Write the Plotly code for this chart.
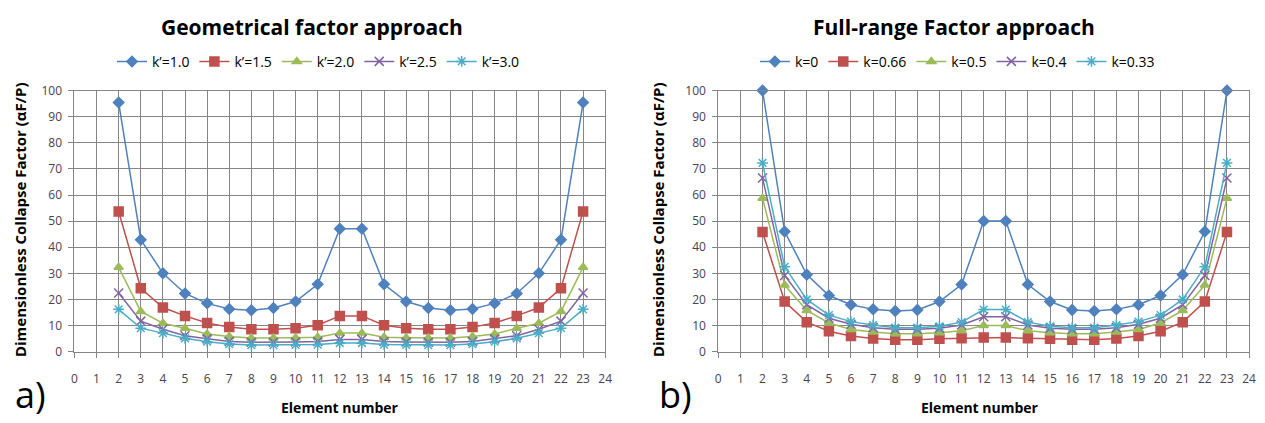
import plotly.graph_objects as go

elements = list(range(2, 24))

# Left: Geometrical factor approach
left_names = ["k\u2019=1.0", "k\u2019=1.5", "k\u2019=2.0", "k\u2019=2.5", "k\u2019=3.0"]
k1_0 = [95.4, 42.9, 30.0, 22.3, 18.5, 16.3, 15.9, 16.7, 19.2, 25.8, 47.1, 47.1, 25.8, 19.2, 16.7, 15.9, 16.3, 18.5, 22.3, 30.0, 42.9, 95.4]
k1_5 = [53.7, 24.3, 16.9, 13.7, 11.0, 9.4, 8.6, 8.6, 9.0, 10.1, 13.7, 13.7, 10.1, 9.0, 8.6, 8.6, 9.4, 11.0, 13.7, 16.9, 24.3, 53.7]
k2_0 = [32.3, 15.4, 10.9, 9.0, 6.8, 5.8, 5.2, 5.2, 5.3, 5.5, 7.1, 7.1, 5.5, 5.3, 5.2, 5.2, 5.8, 6.8, 9.0, 10.9, 15.4, 32.3]
k2_5 = [22.5, 11.7, 8.6, 6.1, 4.9, 3.9, 3.6, 3.6, 3.7, 3.9, 4.7, 4.7, 3.9, 3.7, 3.6, 3.6, 3.9, 4.9, 6.1, 8.6, 11.7, 22.5]
k3_0 = [16.2, 9.0, 7.1, 5.1, 3.8, 2.9, 2.5, 2.5, 2.6, 2.7, 3.3, 3.3, 2.7, 2.6, 2.5, 2.5, 2.9, 3.8, 5.1, 7.1, 9.0, 16.2]

# Right: Full-range factor approach
right_names = ["k=0", "k=0.66", "k=0.5", "k=0.4", "k=0.33"]
k0 = [100, 46.0, 29.5, 21.5, 18.0, 16.2, 15.6, 16.0, 19.2, 25.7, 50, 50, 25.7, 19.2, 16.0, 15.6, 16.2, 18.0, 21.5, 29.5, 46.0, 100]
k066 = [45.8, 19.2, 11.3, 7.8, 6.0, 5.0, 4.6, 4.6, 4.9, 5.1, 5.4, 5.4, 5.1, 4.9, 4.6, 4.6, 5.0, 6.0, 7.8, 11.3, 19.2, 45.8]
k05 = [58.8, 25.5, 15.8, 11.0, 8.5, 7.5, 6.9, 6.9, 7.2, 8.0, 10.0, 10.0, 8.0, 7.2, 6.9, 6.9, 7.5, 8.5, 11.0, 15.8, 25.5, 58.8]
k04 = [66.5, 29.2, 18.0, 12.8, 10.5, 9.2, 8.6, 8.6, 9.0, 10.2, 13.4, 13.4, 10.2, 9.0, 8.6, 8.6, 9.2, 10.5, 12.8, 18.0, 29.2, 66.5]
k033 = [72.3, 32.5, 20.0, 14.0, 11.5, 10.2, 9.2, 9.2, 9.7, 11.3, 16.1, 16.1, 11.3, 9.7, 9.2, 9.2, 10.2, 11.5, 14.0, 20.0, 32.5, 72.3]

x_ticks = list(range(0, 25))
y_ticks = list(range(0, 101, 10))

colors = ["#4F81BD", "#C0504D", "#9BBB59", "#8064A2", "#4BACC6"]
symbols = ["diamond", "square", "triangle-up", "x-thin-open", "asterisk-open"]
sizes = [8, 9, 8, 9, 9]

FONT = "Open Sans, Liberation Sans, sans-serif"

fig = go.Figure()

left_series = [k1_0, k1_5, k2_0, k2_5, k3_0]
right_series = [k0, k066, k05, k04, k033]

for i, (name, ys) in enumerate(zip(left_names, left_series)):
    fig.add_trace(go.Scatter(
        x=elements, y=ys, name=name, mode="lines+markers", cliponaxis=False,
        line=dict(color=colors[i], width=1.5),
        marker=dict(symbol=symbols[i], size=sizes[i], color=colors[i],
                    line=dict(color=colors[i], width=1.5)),
        xaxis="x", yaxis="y", legend="legend"))

for i, (name, ys) in enumerate(zip(right_names, right_series)):
    fig.add_trace(go.Scatter(
        x=elements, y=ys, name=name, mode="lines+markers", cliponaxis=False,
        line=dict(color=colors[i], width=1.5),
        marker=dict(symbol=symbols[i], size=sizes[i], color=colors[i],
                    line=dict(color=colors[i], width=1.5)),
        xaxis="x2", yaxis="y2", legend="legend2"))

W, H = 1265, 423
def px(x):
    return x / W
def py(y):
    return (H - y) / H

grid = "#858585"
tickfont = dict(family=FONT, size=12, color="#4a4050")
xaxis_common = dict(range=[0, 24], tickmode="array", tickvals=x_ticks,
                    ticktext=[str(v) for v in x_ticks],
                    showgrid=True, gridcolor=grid, gridwidth=1,
                    showline=True, linecolor=grid, linewidth=1, mirror=True,
                    ticks="outside", ticklen=5, tickcolor=grid,
                    ticklabelstandoff=11,
                    tickfont=tickfont, zeroline=False, fixedrange=True)
yaxis_common = dict(range=[0, 100], tickmode="array", tickvals=y_ticks,
                    ticktext=[str(v) for v in y_ticks],
                    showgrid=True, gridcolor=grid, gridwidth=1,
                    showline=True, linecolor=grid, linewidth=1, mirror=True,
                    ticks="outside", ticklen=5, tickcolor=grid,
                    ticklabelstandoff=4,
                    tickfont=tickfont, zeroline=False, fixedrange=True)

fig.update_layout(
    width=W, height=H,
    margin=dict(l=0, r=0, t=0, b=0),
    paper_bgcolor="white", plot_bgcolor="white",
    font=dict(family=FONT, color="#000000"),
    xaxis=dict(domain=[px(72), px(607)], anchor="y", **xaxis_common),
    yaxis=dict(domain=[py(357), py(85)], anchor="x", **yaxis_common),
    xaxis2=dict(domain=[px(721), px(1256)], anchor="y2", **xaxis_common),
    yaxis2=dict(domain=[py(357), py(85)], anchor="x2", **yaxis_common),
    legend=dict(orientation="h", x=px(318), y=py(55), xanchor="center", yanchor="middle",
                font=dict(family=FONT, size=14, color="#000"), bgcolor="rgba(0,0,0,0)",
                itemwidth=30, tracegroupgap=0),
    legend2=dict(orientation="h", x=px(962), y=py(55), xanchor="center", yanchor="middle",
                 font=dict(family=FONT, size=14, color="#000"), bgcolor="rgba(0,0,0,0)",
                 itemwidth=30, tracegroupgap=0),
    showlegend=True,
)

annotations = [
    dict(text="<b>Geometrical factor approach</b>", x=px(311), y=py(19), xref="paper", yref="paper",
         showarrow=False, font=dict(family=FONT, size=21, color="#000"), xanchor="center", yanchor="middle"),
    dict(text="<b>Full-range Factor approach</b>", x=px(959), y=py(19), xref="paper", yref="paper",
         showarrow=False, font=dict(family=FONT, size=21, color="#000"), xanchor="center", yanchor="middle"),
    dict(text="<b>Element number</b>", x=px(340), y=py(415), xref="paper", yref="paper",
         showarrow=False, font=dict(family=FONT, size=14, color="#000"), xanchor="center", yanchor="middle"),
    dict(text="<b>Element number</b>", x=px(985), y=py(415), xref="paper", yref="paper",
         showarrow=False, font=dict(family=FONT, size=14, color="#000"), xanchor="center", yanchor="middle"),
    dict(text="<b>Dimensionless Collapse Factor (\u03b1F/P)</b>", x=px(17), y=py(219), xref="paper", yref="paper",
         showarrow=False, textangle=-90, font=dict(family=FONT, size=15, color="#000"), xanchor="center", yanchor="middle"),
    dict(text="<b>Dimensionless Collapse Factor (\u03b1F/P)</b>", x=px(660), y=py(219), xref="paper", yref="paper",
         showarrow=False, textangle=-90, font=dict(family=FONT, size=15, color="#000"), xanchor="center", yanchor="middle"),
    dict(text="a)", x=px(28), y=py(402), xref="paper", yref="paper",
         showarrow=False, font=dict(family=FONT, size=36, color="#000"), xanchor="center", yanchor="middle"),
    dict(text="b)", x=px(678), y=py(402), xref="paper", yref="paper",
         showarrow=False, font=dict(family=FONT, size=36, color="#000"), xanchor="center", yanchor="middle"),
]
fig.update_layout(annotations=annotations)

fig.write_html("out.html")
